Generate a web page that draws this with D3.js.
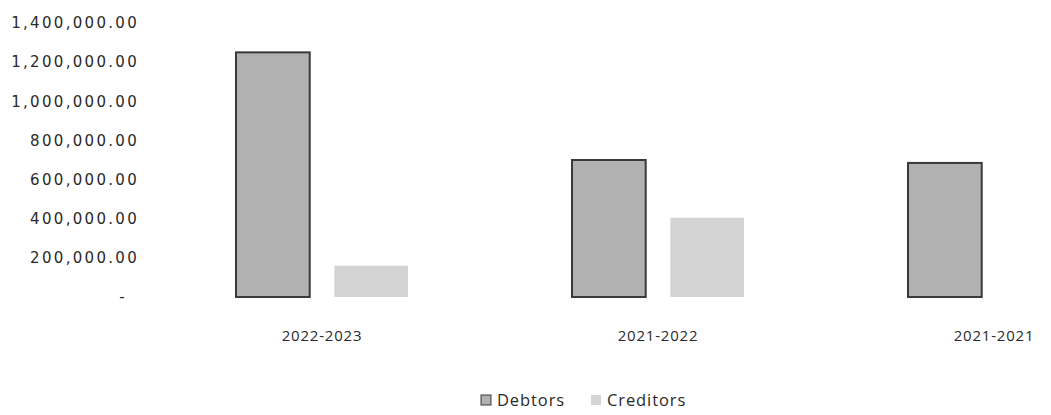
<!DOCTYPE html>
<html>
<head>
<meta charset="utf-8">
<script src="https://cdn.jsdelivr.net/npm/d3@7"></script>
<style>
  html, body { margin: 0; padding: 0; background: #fff; }
  svg { display: block; }
  text { font-family: "Open Sans", "Noto Sans", sans-serif; fill: #2a2a2a; }
</style>
</head>
<body>
<svg id="chart" width="1051" height="415"></svg>
<script>
const categories = ["2022-2023", "2021-2022", "2021-2021"];
const seriesNames = ["Debtors", "Creditors"];
const debtors = [1250000, 700000, 685000];
const creditors = [160000, 405000, 0];
const yTicks = [0, 200000, 400000, 600000, 800000, 1000000, 1200000, 1400000];

const colors = { Debtors: "#b1b1b1", Creditors: "#d4d4d4" };
const strokes = { Debtors: "#3a3a3a", Creditors: "none" };

const svg = d3.select("#chart");

const x = d3.scaleBand().domain(categories).range([154, 1162]).padding(0);
const xs = d3.scaleBand().domain(seriesNames).range([82, 254]).paddingInner(0.25).paddingOuter(0);
const y = d3.scaleLinear().domain([0, 1400000]).range([297, 23]);

const fmt = d3.format(",.2f");

// Y axis
const yAxis = svg.append("g")
  .attr("transform", "translate(139,0)")
  .call(d3.axisLeft(y).tickValues(yTicks).tickSize(0).tickPadding(0)
    .tickFormat(d => d === 0 ? "-" : fmt(d)));
yAxis.select(".domain").remove();
yAxis.selectAll("text")
  .style("font-size", "15px")
  .style("font-family", "'DejaVu Sans', sans-serif")
  .style("letter-spacing", "2.3px")
  .attr("fill", "#2a2a2a");
yAxis.selectAll(".tick").filter(d => d === 0).select("text").attr("dx", -12);

// Bars
const data = categories.map((c, i) => ({ cat: c, values: [
  { key: "Debtors", v: debtors[i] },
  { key: "Creditors", v: creditors[i] }
]}));

const groups = svg.append("g").selectAll("g.grp").data(data).join("g")
  .attr("class", "grp")
  .attr("transform", d => `translate(${x(d.cat)},0)`);

groups.selectAll("rect").data(d => d.values.filter(e => e.v > 0)).join("rect")
  .attr("x", d => xs(d.key))
  .attr("width", xs.bandwidth())
  .attr("y", d => y(d.v))
  .attr("height", d => y(0) - y(d.v))
  .attr("fill", d => colors[d.key])
  .attr("stroke", d => strokes[d.key])
  .attr("stroke-width", 2);

// X axis labels
const xAxis = svg.append("g")
  .attr("transform", "translate(0,330)")
  .call(d3.axisBottom(x).tickSize(0).tickPadding(0));
xAxis.select(".domain").remove();
xAxis.selectAll("text")
  .style("font-size", "15px")
  .style("font-family", "'Open Sans', sans-serif")
  .style("letter-spacing", "0.8px")
  .attr("fill", "#2a2a2a");

// Legend
const legend = svg.append("g").attr("transform", "translate(481,400)");
const legendItems = [
  { key: "Debtors", x: 0 },
  { key: "Creditors", x: 110 }
];
legendItems.forEach(it => {
  const g = legend.append("g").attr("transform", `translate(${it.x},0)`);
  g.append("rect").attr("x", 0).attr("y", -5).attr("width", 10).attr("height", 10)
    .attr("fill", colors[it.key]).attr("stroke", it.key === "Debtors" ? "#3a3a3a" : "none");
  g.append("text").attr("x", 16).attr("y", 0).attr("dy", "0.35em")
    .style("font-size", "16.5px").style("letter-spacing", "0.9px").text(it.key);
});
</script>
</body>
</html>
